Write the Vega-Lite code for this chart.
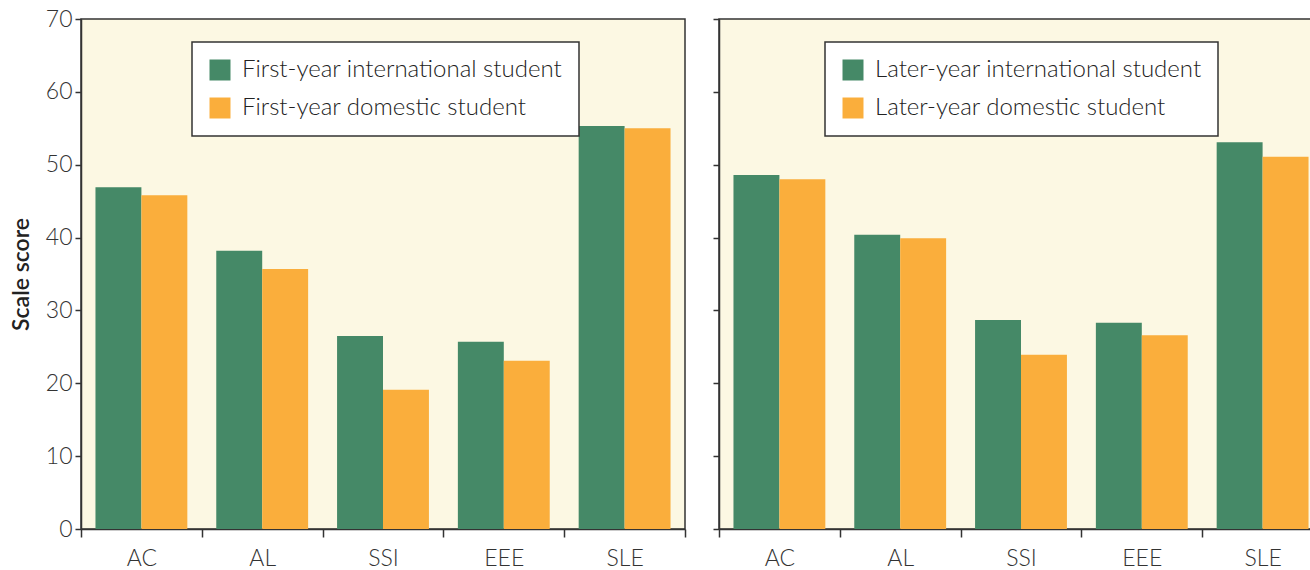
{
  "$schema": "https://vega.github.io/schema/vega-lite/v6.json",
  "background": "white",
  "padding": {"left": 9, "top": 7, "right": 0, "bottom": 0},
  "autosize": {"type": "pad"},
  "config": {
    "font": "Lato",
    "view": {"fill": "#FCF8E3", "stroke": "#333333", "strokeWidth": 1.5},
    "axis": {
      "domainColor": "#333333", "domainWidth": 1.5,
      "tickColor": "#333333", "tickWidth": 1.5,
      "labelColor": "#333333", "labelFont": "Lato", "labelFontWeight": 300, "labelFontSize": 23,
      "titleFont": "Lato", "titleFontSize": 23, "titleFontWeight": 600, "titleColor": "#222222",
      "grid": false
    },
    "legend": {
      "orient": "none", "title": null,
      "fillColor": "white", "strokeColor": "#333333", "strokeWidth": 1.5,
      "padding": 16, "symbolType": "square", "symbolSize": 441, "symbolStrokeWidth": 0,
      "labelFont": "Lato", "labelFontSize": 24, "labelFontWeight": 300, "labelColor": "#222222",
      "rowPadding": 14, "labelOffset": 10, "labelLimit": 500
    }
  },
  "datasets": {
    "first": [
      {"scale": "AC", "group": "First-year international student", "score": 46.9},
      {"scale": "AC", "group": "First-year domestic student", "score": 45.8},
      {"scale": "AL", "group": "First-year international student", "score": 38.2},
      {"scale": "AL", "group": "First-year domestic student", "score": 35.7},
      {"scale": "SSI", "group": "First-year international student", "score": 26.5},
      {"scale": "SSI", "group": "First-year domestic student", "score": 19.1},
      {"scale": "EEE", "group": "First-year international student", "score": 25.7},
      {"scale": "EEE", "group": "First-year domestic student", "score": 23.1},
      {"scale": "SLE", "group": "First-year international student", "score": 55.3},
      {"scale": "SLE", "group": "First-year domestic student", "score": 55.0}
    ],
    "later": [
      {"scale": "AC", "group": "Later-year international student", "score": 48.6},
      {"scale": "AC", "group": "Later-year domestic student", "score": 48.0},
      {"scale": "AL", "group": "Later-year international student", "score": 40.4},
      {"scale": "AL", "group": "Later-year domestic student", "score": 39.9},
      {"scale": "SSI", "group": "Later-year international student", "score": 28.7},
      {"scale": "SSI", "group": "Later-year domestic student", "score": 23.9},
      {"scale": "EEE", "group": "Later-year international student", "score": 28.3},
      {"scale": "EEE", "group": "Later-year domestic student", "score": 26.6},
      {"scale": "SLE", "group": "Later-year international student", "score": 53.1},
      {"scale": "SLE", "group": "Later-year domestic student", "score": 51.1}
    ]
  },
  "spacing": 24,
  "resolve": {"scale": {"color": "independent", "xOffset": "independent", "x": "independent", "y": "independent"}, "legend": {"color": "independent"}},
  "hconcat": [
    {
      "width": 604, "height": 510,
      "data": {"name": "first"},
      "mark": {"type": "bar"},
      "encoding": {
        "x": {"field": "scale", "type": "nominal", "sort": ["AC", "AL", "SSI", "EEE", "SLE"],
              "scale": {"paddingInner": 0, "paddingOuter": 0},
              "axis": {"title": null, "labelAngle": 0, "tickBand": "extent", "tickSize": 8, "labelPadding": 10}},
        "xOffset": {"field": "group", "type": "nominal", "sort": ["First-year international student", "First-year domestic student"],
                    "scale": {"domain": ["First-year international student", "First-year domestic student"], "paddingInner": 0, "paddingOuter": 0.315}},
        "y": {"field": "score", "type": "quantitative",
              "scale": {"domain": [0, 70], "nice": false},
              "axis": {"title": "Scale score", "values": [0, 10, 20, 30, 40, 50, 60, 70], "tickSize": 6, "labelPadding": 3, "titlePadding": 12}},
        "color": {"field": "group", "type": "nominal",
                  "sort": ["First-year international student", "First-year domestic student"],
                  "scale": {"domain": ["First-year international student", "First-year domestic student"], "range": ["#458967", "#FAAE3C"]},
                  "legend": {"legendX": 111, "legendY": 23}}
      }
    },
    {
      "width": 604, "height": 510,
      "data": {"name": "later"},
      "mark": {"type": "bar"},
      "encoding": {
        "x": {"field": "scale", "type": "nominal", "sort": ["AC", "AL", "SSI", "EEE", "SLE"],
              "scale": {"paddingInner": 0, "paddingOuter": 0},
              "axis": {"title": null, "labelAngle": 0, "tickBand": "extent", "tickSize": 8, "labelPadding": 10}},
        "xOffset": {"field": "group", "type": "nominal", "sort": ["Later-year international student", "Later-year domestic student"],
                    "scale": {"domain": ["Later-year international student", "Later-year domestic student"], "paddingInner": 0, "paddingOuter": 0.315}},
        "y": {"field": "score", "type": "quantitative",
              "scale": {"domain": [0, 70], "nice": false},
              "axis": {"title": null, "labels": false, "values": [0, 10, 20, 30, 40, 50, 60, 70], "tickSize": 6}},
        "color": {"field": "group", "type": "nominal",
                  "sort": ["Later-year international student", "Later-year domestic student"],
                  "scale": {"domain": ["Later-year international student", "Later-year domestic student"], "range": ["#458967", "#FAAE3C"]},
                  "legend": {"legendX": 106, "legendY": 23}}
      }
    }
  ]
}
